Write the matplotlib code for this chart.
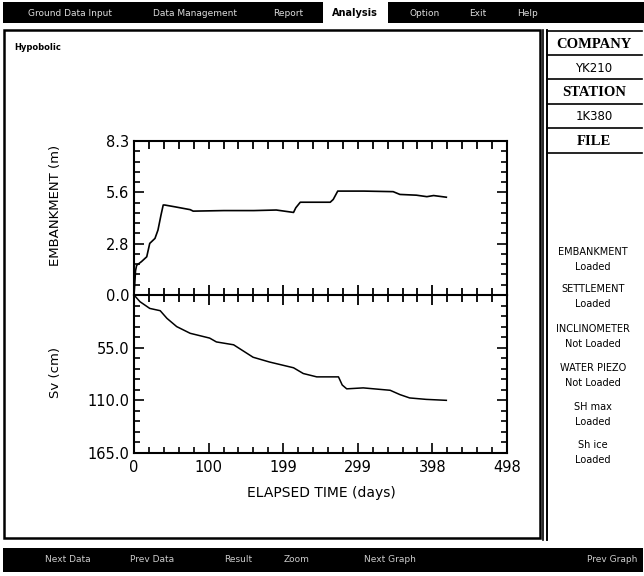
import matplotlib
matplotlib.use("Agg")
import matplotlib.pyplot as plt
from matplotlib.patches import Rectangle
from matplotlib.ticker import FixedLocator, MultipleLocator
import numpy as np

# ---------------- data ----------------
emb_days = [0, 1, 2, 3.5, 10, 17, 21, 28, 32, 36, 39, 41, 55, 75, 79, 120, 160,
            190, 213, 216, 222, 262, 266, 272, 307, 346, 355, 377, 391, 400, 417]
emb_m = [0, 0.6, 1.3, 1.6, 1.8, 2.06, 2.78, 3.05, 3.5, 4.3, 4.85, 4.85, 4.75,
         4.6, 4.52, 4.55, 4.55, 4.58, 4.45, 4.7, 5.0, 5.0, 5.15, 5.6, 5.6, 5.57,
         5.42, 5.38, 5.3, 5.36, 5.27]

settle_days = [0, 8, 21, 35, 44, 57, 75, 101, 110, 133, 159, 181, 213, 226, 244,
               273, 278, 284, 306, 342, 355, 368, 390, 417]
settle_cm = [0, 7, 14, 16.4, 24.4, 33, 40, 45, 49, 52, 65, 70, 76, 82, 85.5,
             85.5, 94, 98, 97, 99.5, 104, 107.5, 109, 110]

x_max = 498
x_tick_labels = ["0", "100", "199", "299", "398", "498"]
emb_max = 8.3
emb_tick_labels = ["0.0", "2.8", "5.6", "8.3"]
sv_max = 165
sv_tick_labels = ["55.0", "110.0", "165.0"]

menu_items = ["Ground Data Input", "Data Management", "Report", "Analysis",
              "Option", "Exit", "Help"]
bottom_items = ["Next Data", "Prev Data", "Result", "Zoom", "Next Graph", "Prev Graph"]
info_header = [("COMPANY", True), ("YK210", False), ("STATION", True),
               ("1K380", False), ("FILE", True)]
status_items = [("EMBANKMENT", "Loaded"), ("SETTLEMENT", "Loaded"),
                ("INCLINOMETER", "Not Loaded"), ("WATER PIEZO", "Not Loaded"),
                ("SH max", "Loaded"), ("Sh ice", "Loaded")]

W, H = 644, 576
fig = plt.figure(figsize=(W / 100, H / 100), dpi=100)
fig.patch.set_facecolor("white")

# background overlay in pixel coordinates
bg = fig.add_axes([0, 0, 1, 1])
bg.set_xlim(0, W)
bg.set_ylim(H, 0)
bg.axis("off")
bg.set_zorder(0)

mono = "DejaVu Sans"

# top menu bar
bg.add_patch(Rectangle((3, 2), 320, 21, facecolor="black", edgecolor="none"))
bg.add_patch(Rectangle((388, 2), 256, 21, facecolor="black", edgecolor="none"))
menu_x = [70, 195, 288, 355, 425, 478, 528]
for xx, t in zip(menu_x, menu_items):
    if t == "Analysis":
        bg.text(xx, 13, t, color="black", fontsize=7, fontweight="bold",
                ha="center", va="center", family=mono)
    else:
        bg.text(xx, 13, t, color="#dddddd", fontsize=6.5, ha="center",
                va="center", family=mono)

# main panel frame
bg.add_patch(Rectangle((4, 30), 536, 508, facecolor="none", edgecolor="black", lw=1.8))
# right panel
bg.plot([543, 543], [30, 540], color="black", lw=1.2)
bg.plot([547, 547], [30, 540], color="black", lw=1.2)
bg.plot([547, 642], [31, 31], color="black", lw=1.2)
bg.plot([547, 547], [30, 540], color="black", lw=1.2)
row_edges = [31, 55, 79, 104, 128, 153]
for yy in row_edges[1:]:
    bg.plot([547, 642], [yy, yy], color="black", lw=1.2)
for (t, hdr), y0, y1 in zip(info_header, row_edges[:-1], row_edges[1:]):
    if hdr:
        bg.text(594, (y0 + y1) / 2 + 1, t, fontsize=10.5, fontweight="bold",
                family="Liberation Serif", ha="center", va="center")
    else:
        bg.text(594, (y0 + y1) / 2 + 1, t, fontsize=8.5, family=mono,
                ha="center", va="center")
status_y = [252, 289, 329, 368, 407, 445]
for (a, b), yy in zip(status_items, status_y):
    bg.text(593, yy, a, fontsize=7, family=mono, ha="center", va="center")
    bg.text(593, yy + 15, b, fontsize=7, family=mono, ha="center", va="center")

# bottom bar
bg.add_patch(Rectangle((3, 548), 640, 24, facecolor="black", edgecolor="none"))
bottom_x = [68, 152, 238, 297, 390, 612]
for xx, t in zip(bottom_x, bottom_items):
    bg.text(xx, 560, t, color="#cccccc", fontsize=6.5, family=mono,
            ha="center", va="center")

# title-ish label
bg.text(14, 48, "Hypobolic", fontsize=6, fontweight="bold", family=mono,
        ha="left", va="center")

# axis labels
bg.text(56, 205, "EMBANKMENT (m)", rotation=90, fontsize=9.5, family=mono,
        ha="center", va="center")
bg.text(56, 372, "Sv (cm)", rotation=90, fontsize=9.5, family=mono,
        ha="center", va="center")
bg.text(321, 493, "ELAPSED TIME (days)", fontsize=10, family=mono,
        ha="center", va="center")

# ---------------- plot axes ----------------
L, R = 134, 507
T, Z, B = 141, 295, 453

def fr(x0, y0, x1, y1):
    return [x0 / W, 1 - y1 / H, (x1 - x0) / W, (y1 - y0) / H]

ax1 = fig.add_axes(fr(L, T, R, Z))
ax2 = fig.add_axes(fr(L, Z, R, B), sharex=ax1)
for a in (ax1, ax2):
    a.set_zorder(2)
    a.patch.set_alpha(0)
    for s in a.spines.values():
        s.set_linewidth(1.5)

ax1.plot(emb_days, emb_m, color="black", lw=1.2)
ax2.plot(settle_days, settle_cm, color="black", lw=1.1)

ax1.set_xlim(0, x_max)
ax1.set_ylim(0, emb_max)
ax2.set_ylim(sv_max, 0)

xmaj = np.linspace(0, x_max, len(x_tick_labels))
ax1.xaxis.set_major_locator(FixedLocator(xmaj))
ax1.xaxis.set_minor_locator(MultipleLocator(x_max / 25))

ymaj1 = np.linspace(0, emb_max, len(emb_tick_labels))
ax1.yaxis.set_major_locator(FixedLocator(ymaj1))
ax1.yaxis.set_minor_locator(MultipleLocator(emb_max / 15))
ax1.set_yticklabels(emb_tick_labels)

ymaj2 = np.linspace(0, sv_max, len(sv_tick_labels) + 1)[1:]
ax2.yaxis.set_major_locator(FixedLocator(ymaj2))
ax2.yaxis.set_minor_locator(MultipleLocator(sv_max / 15))
ax2.set_yticklabels(sv_tick_labels)

# top axes: x ticks on top (in) and bottom (cross)
ax1.tick_params(axis="x", which="both", top=True, bottom=True, labelbottom=False,
                direction="inout")
ax1.tick_params(axis="x", which="major", length=14, width=1.3)
ax1.tick_params(axis="x", which="minor", length=10, width=1.3)
ax1.tick_params(axis="y", which="both", left=True, right=True, direction="in",
                labelsize=10.5, width=1.2)
ax1.tick_params(axis="y", which="major", length=7)
ax1.tick_params(axis="y", which="minor", length=4)

ax2.tick_params(axis="x", which="both", top=False, bottom=True, direction="in",
                labelsize=10.5, pad=5, width=1.2)
ax2.tick_params(axis="x", which="major", length=7)
ax2.tick_params(axis="x", which="minor", length=4)
ax2.tick_params(axis="y", which="both", left=True, right=True, direction="in",
                labelsize=10.5, width=1.2)
ax2.tick_params(axis="y", which="major", length=7)
ax2.tick_params(axis="y", which="minor", length=4)
ax2.set_xticklabels(x_tick_labels)
ax2.spines["top"].set_visible(False)

# top ticks of ax1 should point inward only
for t in ax1.xaxis.get_major_ticks() + ax1.xaxis.get_minor_ticks():
    t.tick2line.set_markersize(6)
    t.tick2line.set_marker(3)  # TICKDOWN

for lab in ax1.get_yticklabels() + ax2.get_yticklabels() + ax2.get_xticklabels():
    lab.set_family(mono)

fig.savefig("out.png", dpi=100)
